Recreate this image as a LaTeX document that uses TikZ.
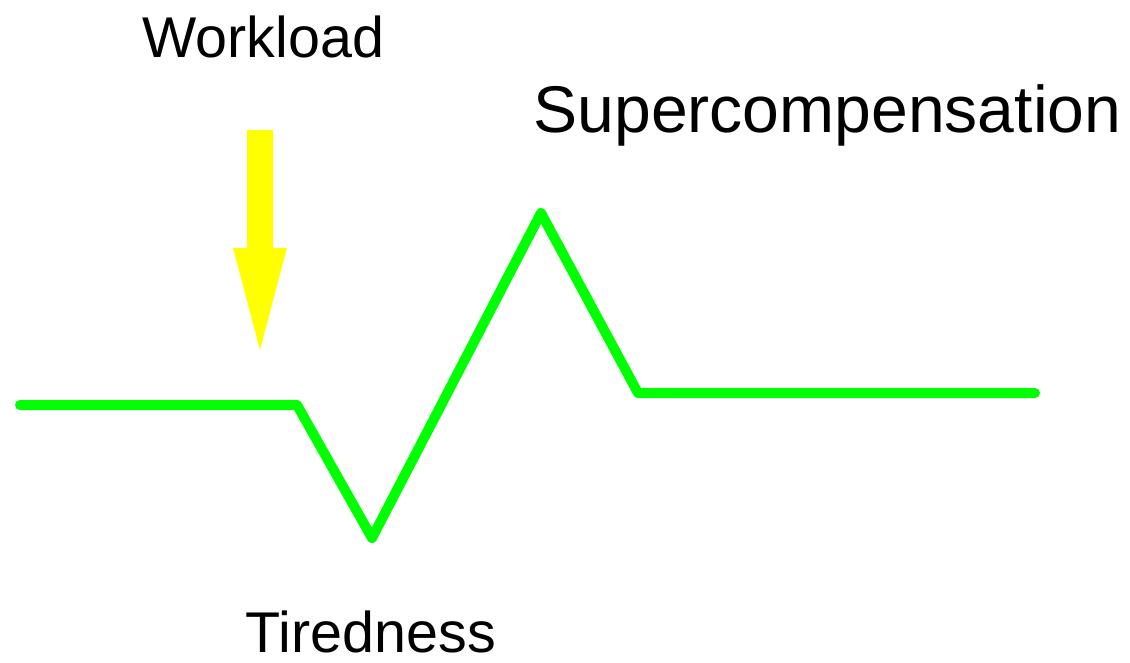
\documentclass[tikz,border=0pt]{standalone}
\usepackage{fontspec}
\setmainfont{Liberation Sans}
\definecolor{lgreen}{RGB}{0,255,0}
\definecolor{lyellow}{RGB}{255,255,0}
\begin{document}
\begin{tikzpicture}[x=0.02cm,y=-0.02cm,
  curve/.style={draw=lgreen,line width=0.2cm,line cap=round,line join=round},
  loadarrow/.style={fill=lyellow,draw=none},
  lbl/.style={anchor=base,inner sep=0pt,font=\fontsize{32.7pt}{36pt}\selectfont},
  biglbl/.style={anchor=base,inner sep=0pt,font=\fontsize{37.6pt}{42pt}\selectfont}]
\useasboundingbox (0,0) rectangle (1130,663);
\coordinate (p0) at (20,405);
\coordinate (p1) at (297,405);
\coordinate (p2) at (372,538);
\coordinate (p3) at (541,213);
\coordinate (p4) at (638,393);
\coordinate (p5) at (1035,393);
\draw[curve] (p0) -- (p1) -- (p2) -- (p3) -- (p4) -- (p5);
\fill[loadarrow] (247,130) -- (273,130) -- (273,248) -- (287,248) -- (260,350) -- (233,248) -- (247,248) -- cycle;
\node[lbl] (workload) at (263.5,57) {Workload};
\node[biglbl] (super) at (827.5,132) {Supercompensation};
\node[lbl] (tired) at (371,652) {Tiredness};
\end{tikzpicture}
\end{document}
